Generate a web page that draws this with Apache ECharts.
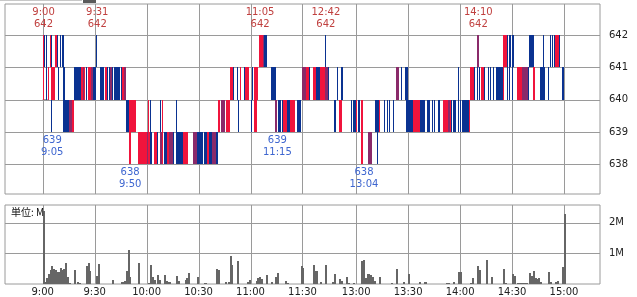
<!DOCTYPE html>
<html><head><meta charset="utf-8">
<script src="https://cdn.jsdelivr.net/npm/echarts@6/dist/echarts.min.js"></script>
<style>html,body{margin:0;padding:0;background:#fff}#c{width:637px;height:297px}</style>
</head><body><div id="c"></div>
<script>
// minute index from 9:00, lunch break 11:30-12:30 removed (12:30 -> 151)
const tickIdx = [0,30,60,90,120,150,181,211,241,271,301];
const tickLabels = ['9:00','9:30','10:00','10:30','11:00','11:30','13:00','13:30','14:00','14:30','15:00'];
const priceTicks = [638,639,640,641,642];
const volTicks = [1,2];

// price-change bars per band (band = [low, low+1]); each segment: [startMinute, pattern]
// r/b/p = up(red) / down(blue) / mixed(purple) full-minute block, upper case = thin line, '.' = none
const band641 = [[0,"RBB.RB.rB.BbB"],[31,"B"],[125,"rrpbB"],[163,"B"],[251,"p"],[266,"rrBBBb"],[281,"bbB"],[289,"B...BBBrrB"]];
const band640 = [[0,"r.BR.rr..B..b.....bbbbrpRBrrpbB..bbBrBbpBbbbBbrp"],[108,"rrB.B.R.Brr..BrrR.......bbB"],[150,"pprrB.rrbbrrrppB....B.BB"],[204,"pp.B.Bb"],[240,"B"],[247,"rrB.BBrRB.BB.B.bbbBR.BB.B..rrrpppB..r...bbb..B.......b"]];
const band639 = [[5,"B......bbbppr"],[48,"bbrrRr"],[61,"RB.....BR.......B"],[101,"rRpp.rr"],[113,"B"],[120,"b.rr"],[134,"p.bBbrrbbrrR.bb"],[168,"bB.rR.....BbbRb.r.......bbr..B.BB.B.......bbbBrrrrbbb.bB.BB.BB.rrrprBbB.BBbbbbr"]];
const band638 = [[50,"r....rrrrrprb.rrB.pRbbrppB.bbbbrrr...ppbbbBbbrbbppb"],[184,"r...pp...B"]];

// highs / lows annotations
const hiIdx = [0,31,125,163,251];
const hiTime = ['9:00','9:31','11:05','12:42','14:10'];
const hiPrice = [642,642,642,642,642];
const loIdx = [5,50,135,185];
const loTime = ['9:05','9:50','11:15','13:04'];
const loPrice = [639,638,639,638];

// volume (millions) per minute index
const volIdx = [0,1,2,3,4,5,6,7,8,9,10,11,12,13,14,15,
  18,20,21, 25,26,27, 31,32, 40, 45,46,47,48,49,50, 55,
  61,62,63,64,66,67, 70,71,72,73, 77,78, 82,83,84, 89, 93,94,
  100,101, 105, 107,108,109, 112, 118,119, 123,124,125,126, 129, 132, 134,135, 140,141,
  149,150, 156,157,158, 160, 163, 167,168, 171,172, 175,176, 179,
  184,185,186,187,188,189,190,191, 194, 201, 204, 208, 211, 217, 220,221,
  233,234, 237, 240,241, 247,248, 251,252, 256, 259, 266,267, 271,272,
  274,275,276,277,278,279, 281,282,283,284,285,286,287, 292,293, 296,297, 300,301];
const volM = [2.37,0.06,0.19,0.33,0.46,0.59,0.49,0.45,0.38,0.38,0.53,0.47,0.49,0.67,0.24,0.03,
  0.46,0.06,0.04, 0.59,0.67,0.43, 0.27,0.65, 0.14, 0.05,0.07,0.1,0.43,1.1,0.24, 0.67,
  0.03,0.62,0.24,0.14,0.3,0.14, 0.3,0.1,0.06,0.06, 0.27,0.1, 0.14,0.19,0.35, 0.23, 0.03,0.03,
  0.49,0.46, 0.06, 0.06,0.9,0.62, 0.74, 0.06,0.14, 0.1,0.21,0.23,0.17, 0.28, 0.06, 0.23,0.35, 0.1,0.04,
  0.59,0.52, 0.62,0.43,0.43, 0.06, 0.62, 0.06,0.32, 0.17,0.1, 0.23,0.03, 0.03,
  0.74,0.78,0.2,0.33,0.33,0.3,0.22,0.1, 0.23, 0.03, 0.49, 0.06, 0.32, 0.06, 0.05,0.05,
  0.03,0.03, 0.06, 0.38,0.38, 0.03,0.19, 0.59,0.45, 0.8, 0.23, 0.49,0.03, 0.33,0.27,
  0.03,0.03,0.03,0.03,0.03,0.03, 0.36,0.27,0.43,0.2,0.16,0.19,0.06, 0.39,0.06, 0.06,0.1, 0.56,2.29];

const BAR_COLORS = ['#f0143c', '#0a3291', '#8a2a6a'];
const CODE = {r:0, b:1, p:2};
const FONT = 'DejaVu Sans';
const GRID_COLOR = '#9a9a9a';

const barData = [];
[[641, band641],[640, band640],[639, band639],[638, band638]].forEach(([low, segs]) => {
  segs.forEach(([start, pat]) => {
    for (let i = 0; i < pat.length; i++) {
      const ch = pat[i];
      if (ch === '.') continue;
      const k = ch.toLowerCase();
      barData.push([start + i, low, CODE[k], ch !== k ? 1 : 0]);
    }
  });
});
const volData = volIdx.map((m, i) => [m, volM[i]]);

function vLines(yRef) {
  return function (params, api) {
    const cs = params.coordSys;
    const x = Math.round(api.coord([api.value(0), yRef])[0]) + 0.5;
    return {type:'line', shape:{x1:x, y1:cs.y, x2:x, y2:cs.y + cs.height}, style:{stroke:GRID_COLOR, lineWidth:1}};
  };
}
function hLines(params, api) {
  const cs = params.coordSys;
  const y = Math.round(api.coord([0, api.value(1)])[1]) + 0.5;
  return {type:'line', shape:{x1:cs.x, y1:y, x2:cs.x + cs.width, y2:y}, style:{stroke:GRID_COLOR, lineWidth:1}};
}

const xCommon = {type:'value', min:-21.76, max:321.77, splitLine:{show:false}, axisLine:{show:false}, axisTick:{show:false}};

const chart = echarts.init(document.getElementById('c'));
chart.setOption({
  animation:false,
  backgroundColor:'#fff',
  textStyle:{fontFamily:FONT},
  grid:[
    {left:5, top:4, width:595, height:190, show:true, borderColor:GRID_COLOR, borderWidth:1, backgroundColor:'transparent'},
    {left:5, top:205, width:595, height:80, show:true, borderColor:GRID_COLOR, borderWidth:1, backgroundColor:'transparent'}
  ],
  xAxis:[
    Object.assign({gridIndex:0, axisLabel:{show:false}}, xCommon),
    Object.assign({gridIndex:1, axisLabel:{show:true, customValues:tickIdx, margin:3, color:'#222', fontSize:10, fontFamily:FONT,
      formatter:v => tickLabels[tickIdx.indexOf(v)] || ''}}, xCommon)
  ],
  yAxis:[
    {gridIndex:0, type:'value', position:'right', min:637.08, max:642.96, splitLine:{show:false}, axisLine:{show:false},
     axisTick:{show:true, length:5, customValues:priceTicks, lineStyle:{color:GRID_COLOR}},
     axisLabel:{customValues:priceTicks, margin:9, color:'#222', fontSize:10, fontFamily:FONT}},
    {gridIndex:1, type:'value', position:'right', min:0, max:2.58, splitLine:{show:false}, axisLine:{show:false},
     axisTick:{show:true, length:5, customValues:volTicks, lineStyle:{color:GRID_COLOR}},
     axisLabel:{customValues:volTicks, margin:9, color:'#222', fontSize:10, fontFamily:FONT, formatter:v => v + 'M'}}
  ],
  graphic:[
    {type:'rect', left:0, top:0, shape:{width:82, height:1}, style:{fill:'#c8c8c8'}, silent:true},
    {type:'rect', left:83, top:0, shape:{width:13, height:3}, style:{fill:'#5a5a5a'}, silent:true},
    {type:'text', left:11, top:207, z:10, style:{text:'単位: M', fill:'#111', font:'10px "Noto Sans CJK JP", "DejaVu Sans"'}, silent:true}
  ],
  series:[
    {type:'custom', xAxisIndex:0, yAxisIndex:0, z:1, silent:true, data:tickIdx.map(v => [v, 640]), renderItem:vLines(640)},
    {type:'custom', xAxisIndex:0, yAxisIndex:0, z:1, silent:true, data:priceTicks.map(p => [0, p]), renderItem:hLines},
    {type:'custom', xAxisIndex:1, yAxisIndex:1, z:1, silent:true, data:tickIdx.map(v => [v, 1]), renderItem:vLines(1)},
    {type:'custom', xAxisIndex:1, yAxisIndex:1, z:1, silent:true, data:volTicks.map(v => [0, v]), renderItem:hLines},
    {type:'custom', xAxisIndex:0, yAxisIndex:0, z:3, silent:true, data:barData,
     renderItem:function (params, api) {
       const m = api.value(0), lo = api.value(1), c = api.value(2), thin = api.value(3);
       const a = api.coord([m, lo + 1]), b = api.coord([m + 1, lo]);
       const x0 = Math.round(a[0]), x1 = Math.round(b[0]);
       const y0 = Math.round(a[1]), y1 = Math.round(b[1]);
       const w = thin ? 1 : Math.max(1, x1 - x0);
       return {type:'rect', shape:{x:x0, y:y0, width:w, height:y1 - y0}, style:{fill:BAR_COLORS[c]}};
     }},
    {type:'custom', xAxisIndex:1, yAxisIndex:1, z:3, silent:true, data:volData,
     renderItem:function (params, api) {
       const m = api.value(0), v = api.value(1);
       const a = api.coord([m, v]), b = api.coord([m + 1, 0]);
       const x0 = Math.round(a[0]), x1 = Math.round(b[0]);
       const yTop = Math.round(a[1]);
       const w = Math.max(2, x1 - x0);
       return {type:'rect', shape:{x:x0, y:yTop, width:w, height:Math.max(1, Math.round(b[1]) - yTop)}, style:{fill:'#666'}};
     }},
    {type:'custom', xAxisIndex:0, yAxisIndex:0, z:5, silent:true, data:hiIdx.map((m, i) => [m, hiPrice[i]]),
     renderItem:function (params, api) {
       const i = params.dataIndex;
       const p = api.coord([api.value(0) + 0.5, api.value(1)]);
       return {type:'text', x:p[0], y:p[1] - 5, style:{text:hiTime[i] + '\n' + hiPrice[i], fill:'#c0403f',
         font:'10px "DejaVu Sans"', align:'center', verticalAlign:'bottom', lineHeight:12}};
     }},
    {type:'custom', xAxisIndex:0, yAxisIndex:0, z:5, silent:true, data:loIdx.map((m, i) => [m, loPrice[i]]),
     renderItem:function (params, api) {
       const i = params.dataIndex;
       const p = api.coord([api.value(0) + 0.5, api.value(1)]);
       return {type:'text', x:p[0], y:p[1] + 2, style:{text:loPrice[i] + '\n' + loTime[i], fill:'#3e66d0',
         font:'10px "DejaVu Sans"', align:'center', verticalAlign:'top', lineHeight:12}};
     }}
  ]
});
</script>
</body></html>
